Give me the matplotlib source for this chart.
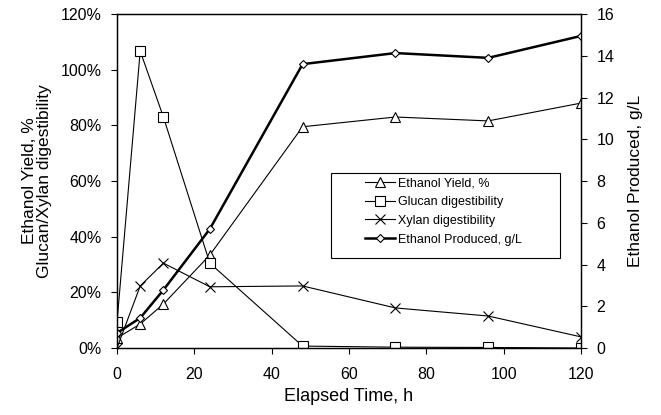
import numpy as np
import matplotlib.pyplot as plt
from matplotlib.ticker import FuncFormatter
from matplotlib.patches import Rectangle

plt.rcParams['font.family'] = ['Liberation Sans', 'DejaVu Sans']

hours = [0, 6, 12, 24, 48, 72, 96, 120]
ethanol_yield = [3.6, 8.6, 15.8, 33.4, 79.5, 83.0, 81.6, 88.0]
glucan_dig = [9.2, 106.7, 83.0, 30.5, 0.7, 0.3, 0.2, 0.0]
xylan_dig = [0.0, 22.3, 30.5, 22.0, 22.3, 14.4, 11.5, 4.0]
ethanol_gl = [0.72, 1.44, 2.78, 5.7, 13.6, 14.13, 13.9, 14.95]

fig = plt.figure(figsize=(6.61, 4.15), dpi=100)
ax = fig.add_axes([0.177, 0.1614, 0.702, 0.8048])
ax2 = ax.twinx()

l1, = ax.plot(hours, ethanol_yield, color='black', lw=0.8, marker='^', ms=6.5,
              mfc='white', mec='black', mew=0.8, label='Ethanol Yield, %')
l2, = ax.plot(hours, glucan_dig, color='black', lw=0.8, marker='s', ms=6.8,
              mfc='white', mec='black', mew=0.8, label='Glucan digestibility')
l3, = ax.plot(hours, xylan_dig, color='black', lw=0.8, marker='x', ms=7.5,
              mec='black', mew=0.8, label='Xylan digestibility')
l4, = ax2.plot(hours, ethanol_gl, color='black', lw=1.8, marker='D', ms=4.5,
               mfc='white', mec='black', mew=0.8, label='Ethanol Produced, g/L')

ax.set_xlim(0, 120)
ax.set_ylim(0, 120)
ax2.set_ylim(0, 16)
ax.set_xticks(np.arange(0, 121, 20))
ax.set_yticks(np.arange(0, 121, 20))
ax2.set_yticks(np.arange(0, 17, 2))
ax.yaxis.set_major_formatter(FuncFormatter(lambda v, p: f'{v:.0f}%'))

for a in (ax, ax2):
    a.tick_params(direction='out', length=4, width=0.8, labelsize=11.5, pad=7)
    for s in a.spines.values():
        s.set_linewidth(0.9)
ax.tick_params(axis='x', pad=10)

ax.set_xlabel('Elapsed Time, h', fontsize=13, labelpad=4)
ax.set_ylabel('Ethanol Yield, %\nGlucan/Xylan digestibility', fontsize=12.5,
              labelpad=6, linespacing=1.0)
ax2.set_ylabel('Ethanol Produced, g/L', fontsize=12.5, labelpad=10)

# legend box drawn separately, legend entries placed inside it
ax2.add_patch(Rectangle((0.461, 0.269), 0.494, 0.255, transform=ax.transAxes,
                        facecolor='white', edgecolor='black', lw=0.8, zorder=5))
leg = ax2.legend(handles=[l1, l2, l3, l4], loc='upper left',
                 bbox_to_anchor=(0.535, 0.512), bbox_transform=ax.transAxes,
                 fontsize=9, frameon=False, borderpad=0, borderaxespad=0,
                 handlelength=2.4, handletextpad=0.2, labelspacing=0.55)
leg.set_zorder(6)

fig.savefig('out.png', dpi=100)
